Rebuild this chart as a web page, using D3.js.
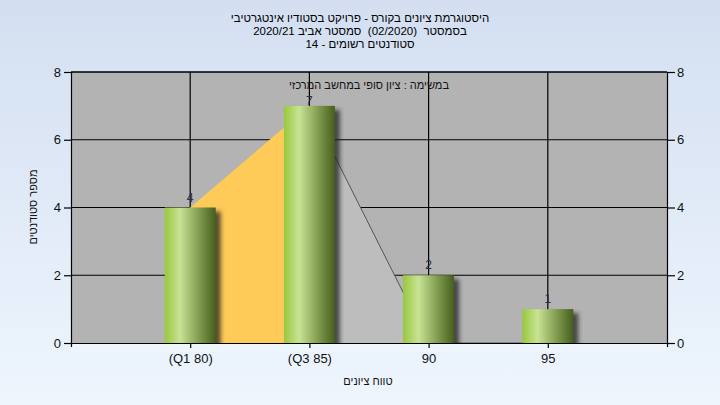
<!DOCTYPE html>
<html><head><meta charset="utf-8">
<script src="https://cdn.jsdelivr.net/npm/d3@7"></script>
<style>html,body{margin:0;padding:0;overflow:hidden}svg{display:block}</style>
</head><body>
<svg id="c" width="720" height="405"></svg>
<script>
const titleLines = ["היסטוגרמת ציונים בקורס - פרויקט בסטודיו אינטגרטיבי","בסמסטר  (02/2020)  סמסטר אביב 2020/21","סטודנטים רשומים - 14"];
const subtitle = "במשימה : ציון סופי במחשב המרכזי";
const categories = ["(Q1 80)", "(Q3 85)", "90", "95"];
const counts = [4, 7, 2, 1];
const curveValues = [4, 7, 0, 0];
const yTicks = [0, 2, 4, 6, 8];
const yTitle = "מספר סטודנטים";
const xTitle = "טווח ציונים";

const svg = d3.select("#c");
const font = "'Liberation Sans', Arial, sans-serif";
const L = 71, R = 667, T = 72, B = 343;
const defs = svg.append("defs");
const bgG = defs.append("linearGradient").attr("id","bg").attr("x1",0).attr("y1",0).attr("x2",0).attr("y2",1);
bgG.append("stop").attr("offset","0%").attr("stop-color","#d3dff1");
bgG.append("stop").attr("offset","100%").attr("stop-color","#eef5fd");
const barG = defs.append("linearGradient").attr("id","bar").attr("x1",0).attr("y1",0).attr("x2",1).attr("y2",0);
[["0%","#98c83e"],["30%","#c8e394"],["60%","#8eaa5c"],["100%","#465e1c"]].forEach(s=>barG.append("stop").attr("offset",s[0]).attr("stop-color",s[1]));
const f = defs.append("filter").attr("id","sh").attr("x","-20%").attr("y","-20%").attr("width","160%").attr("height","160%");
f.append("feGaussianBlur").attr("stdDeviation",2.2);

svg.append("rect").attr("width",720).attr("height",405).attr("fill","url(#bg)");

const x = d3.scalePoint().domain(categories).range([L, R]).padding(1);
const y = d3.scaleLinear().domain([0, 8]).range([B, T]);

svg.append("rect").attr("x",L).attr("y",T).attr("width",R-L).attr("height",B-T).attr("fill","#b3b3b3");

// gridlines
svg.append("g").selectAll("line").data(yTicks.filter(d=>d>0)).join("line")
  .attr("x1",L).attr("x2",R).attr("y1",d=>y(d)).attr("y2",d=>y(d)).attr("stroke","#000").attr("stroke-width",1.2);
svg.append("g").selectAll("line").data(categories).join("line")
  .attr("x1",d=>x(d)).attr("x2",d=>x(d)).attr("y1",T).attr("y2",B).attr("stroke","#000").attr("stroke-width",1.2);

// curve areas
const pts = categories.map((c,i)=>[x(c), y(curveValues[i])]);
svg.append("path").attr("fill","#fecb59")
  .attr("d", d3.area().x(d=>d[0]).y0(B).y1(d=>d[1])(pts.slice(0,2)));
svg.append("path").attr("fill","#bdbdbd")
  .attr("d", d3.area().x(d=>d[0]).y0(B).y1(d=>d[1])(pts.slice(1)));
svg.append("path").attr("fill","none").attr("stroke","#555").attr("stroke-width",1)
  .attr("d", d3.line()(pts.slice(1)));

// bars
const bw = 51;
const bars = svg.append("g");
bars.selectAll(".s").data(counts).join("rect")
  .attr("x",(d,i)=>x(categories[i])-bw/2+5).attr("y",d=>y(d)+4).attr("width",bw).attr("height",d=>B-y(d))
  .attr("fill","#222").attr("opacity",0.75).attr("filter","url(#sh)");
svg.append("rect").attr("x",L).attr("y",B+1).attr("width",R-L).attr("height",8).attr("fill","#eef5fd");
bars.selectAll(".b").data(counts).join("rect")
  .attr("x",(d,i)=>x(categories[i])-bw/2).attr("y",d=>y(d)).attr("width",bw).attr("height",d=>B-y(d))
  .attr("fill","url(#bar)");

// top border
svg.append("line").attr("x1",L).attr("x2",R).attr("y1",T).attr("y2",T).attr("stroke","#000").attr("stroke-width",1.2);

// axes
const yl = svg.append("g").attr("transform",`translate(${L},0)`).call(d3.axisLeft(y).tickValues(yTicks).tickSize(7).tickPadding(3));
const yr = svg.append("g").attr("transform",`translate(${R},0)`).call(d3.axisRight(y).tickValues(yTicks).tickSize(8).tickPadding(2));
const xa = svg.append("g").attr("transform",`translate(0,${B})`).call(d3.axisBottom(x).tickSize(5).tickPadding(6));
[yl,yr,xa].forEach(g=>{
  g.select(".domain").attr("stroke","#000").attr("stroke-width",1.2);
  g.selectAll(".tick line").attr("stroke","#000").attr("stroke-width",1.2);
  g.selectAll("text").attr("font-family",font).attr("font-size",13).attr("fill","#111");
});
xa.select(".domain").attr("d",`M${L},0.5H${R}`);
yl.select(".domain").attr("d",`M0.5,${T}V${B+4}`);
yr.select(".domain").attr("d",`M0.5,${T}V${B+4}`);

// value labels
svg.append("g").selectAll("text").data(counts).join("text")
  .attr("x",(d,i)=>x(categories[i])).attr("y",d=>Math.max(y(d)-6, 105)).attr("text-anchor","middle")
  .attr("font-family",font).attr("font-size",12).attr("fill","#2a2e3e").text(d=>d);

// titles
svg.append("g").selectAll("text").data(titleLines).join("text")
  .attr("x",360).attr("y",(d,i)=>22+i*13).attr("text-anchor","middle").attr("direction","rtl")
  .style("white-space","pre")
  .attr("font-family",font).attr("font-size",11.5).attr("fill","#000").text(d=>d);
svg.append("text").attr("x",369).attr("y",89).attr("text-anchor","middle").attr("direction","rtl")
  .attr("font-family",font).attr("font-size",11).attr("fill","#111").text(subtitle);
svg.append("text").attr("transform","translate(37,207) rotate(-90)").attr("text-anchor","middle").attr("direction","rtl")
  .attr("font-family",font).attr("font-size",11).attr("fill","#111").text(yTitle);
svg.append("text").attr("x",368).attr("y",385).attr("text-anchor","middle").attr("direction","rtl")
  .attr("font-family",font).attr("font-size",11).attr("fill","#111").text(xTitle);
</script>
</body></html>
